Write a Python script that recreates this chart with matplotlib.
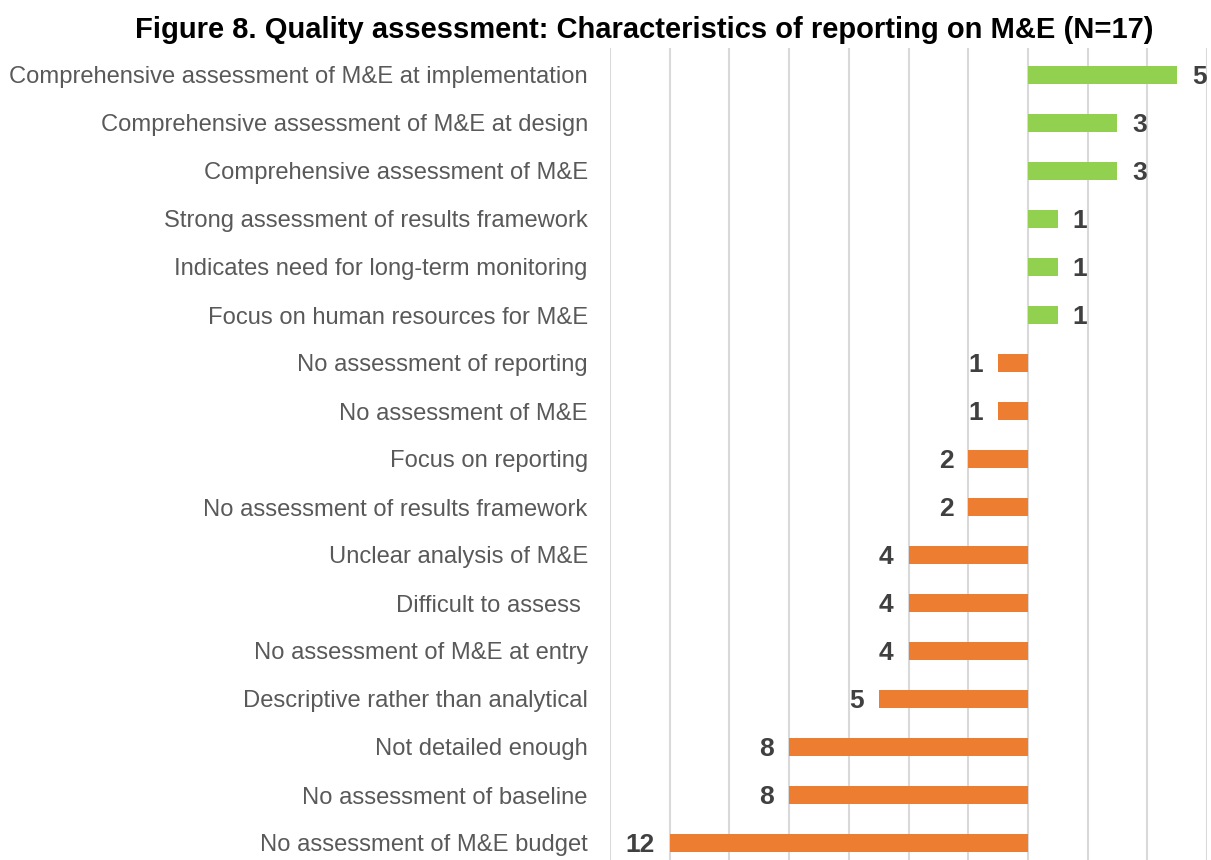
import matplotlib
matplotlib.use("Agg")
import matplotlib.pyplot as plt

categories = [
    "Comprehensive assessment of M&E at implementation",
    "Comprehensive assessment of M&E at design",
    "Comprehensive assessment of M&E",
    "Strong assessment of results framework",
    "Indicates need for long-term monitoring",
    "Focus on human resources for M&E",
    "No assessment of reporting",
    "No assessment of M&E",
    "Focus on reporting",
    "No assessment of results framework",
    "Unclear analysis of M&E",
    "Difficult to assess ",
    "No assessment of M&E at entry",
    "Descriptive rather than analytical",
    "Not detailed enough",
    "No assessment of baseline",
    "No assessment of M&E budget",
]
counts = [5, 3, 3, 1, 1, 1, 1, 1, 2, 2, 4, 4, 4, 5, 8, 8, 12]
positive = [True] * 6 + [False] * 11

GREEN = "#92D050"
ORANGE = "#ED7D31"

plt.rcParams['font.family'] = ['Liberation Sans', 'DejaVu Sans']

W, H = 1211, 860
fig = plt.figure(figsize=(W / 100, H / 100), dpi=100)
ax = fig.add_axes([610 / W, 0, (1207 - 610) / W, 1 - 48 / H])

ys = list(range(len(categories)))
vals = [c if p else -c for c, p in zip(counts, positive)]
colors = [GREEN if p else ORANGE for p in positive]
ax.barh(ys, vals, height=0.37, color=colors, zorder=3)

ax.set_xlim(-14, 6)
ax.set_ylim((860 - 75) / 48, (48 - 75) / 48)
ax.set_xticks(range(-14, 7, 2))
ax.grid(axis='x', color='#D9D9D9', linewidth=1.5, zorder=0)
ax.tick_params(axis='x', length=0, labelbottom=False)
ax.tick_params(axis='y', length=0)
for s in ax.spines.values():
    s.set_visible(False)
ax.set_yticks(ys)
ax.set_yticklabels(categories, fontsize=17.1, color='#595959')
ax.tick_params(axis='y', pad=16)

for y, v in zip(ys, vals):
    if v > 0:
        ax.text(v + 0.5, y + 0.04, str(abs(v)), ha='left', va='center', fontsize=19,
                fontweight='bold', color='#404040')
    else:
        ax.text(v - 0.5, y + 0.04, str(abs(v)), ha='right', va='center', fontsize=19,
                fontweight='bold', color='#404040')

fig.text(644 / W, 1 - 30 / H, "Figure 8. Quality assessment: Characteristics of reporting on M&E (N=17)",
         ha='center', va='center', fontsize=21, fontweight='bold', color='black')

fig.savefig("out.png", dpi=100)
